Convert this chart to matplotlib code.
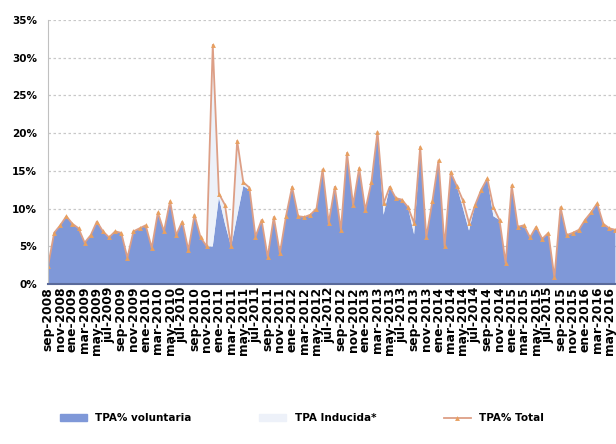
import matplotlib
matplotlib.use("Agg")
import matplotlib.pyplot as plt
from matplotlib.patches import Patch
from matplotlib.lines import Line2D
from matplotlib.ticker import PercentFormatter
import numpy as np

# monthly values, sep-2008 .. jun-2016
tpa_total = [2.4, 6.8, 7.8, 9.0, 8.0, 7.4, 5.5, 6.5, 8.3, 7.0,
             6.2, 7.0, 6.8, 3.5, 7.0, 7.4, 7.8, 4.8, 9.5, 7.0,
             11.0, 6.5, 8.3, 4.5, 9.2, 6.2, 5.0, 31.7, 12.0, 10.5,
             5.0, 19.0, 13.5, 12.8, 6.3, 8.5, 3.6, 8.9, 4.1, 9.0,
             12.9, 9.0, 8.9, 9.2, 10.0, 15.2, 8.1, 12.9, 7.2, 17.4,
             10.5, 15.4, 9.8, 13.5, 20.2, 10.7, 12.9, 11.4, 11.2, 10.2,
             8.1, 18.2, 6.2, 11.0, 16.4, 5.0, 14.8, 13.0, 11.1, 8.1,
             10.5, 12.5, 14.0, 10.2, 8.5, 2.8, 13.1, 7.6, 7.8, 6.2,
             7.6, 6.0, 6.8, 0.9, 10.2, 6.5, 6.8, 7.2, 8.5, 9.5,
             10.7, 8.0, 7.4, 7.2]

tpa_inducida = [0, 0, 0, 0, 0, 0, 0, 0, 0, 0,
                0, 0, 0, 0, 0, 0, 0, 0, 0, 0,
                0, 0, 0, 0, 0, 0, 0, 26.7, 0.5, 2.5,
                0, 10.0, 0.5, 0.3, 0, 0, 0, 0, 0, 0,
                0, 0, 0, 0, 0, 0, 0, 0, 0, 0,
                0, 0, 0, 0, 0, 1.5, 0, 0, 0, 0,
                1.5, 0, 0, 0, 0, 0, 0, 0, 1.0, 1.0,
                0, 0, 0, 1.2, 0, 0, 0, 0, 0, 0,
                0, 0, 0, 0, 0, 0, 0, 0, 0, 0,
                0, 0, 0, 0]

tick_labels = ["sep-2008", "nov-2008", "ene-2009", "mar-2009", "may-2009", "jul-2009",
               "sep-2009", "nov-2009", "ene-2010", "mar-2010", "may-2010", "jul-2010",
               "sep-2010", "nov-2010", "ene-2011", "mar-2011", "may-2011", "jul-2011",
               "sep-2011", "nov-2011", "ene-2012", "mar-2012", "may-2012", "jul-2012",
               "sep-2012", "nov-2012", "ene-2013", "mar-2013", "may-2013", "jul-2013",
               "sep-2013", "nov-2013", "ene-2014", "mar-2014", "may-2014", "jul-2014",
               "sep-2014", "nov-2014", "ene-2015", "mar-2015", "may-2015", "jul-2015",
               "sep-2015", "nov-2015", "ene-2016", "mar-2016", "may-2016"]

BLUE = "#7f98d8"
LIGHT = "#edf1f9"
ORANGE = "#dd9f86"

total = np.array(tpa_total)
inducida = np.array(tpa_inducida)
voluntaria = total - inducida
x = np.arange(len(total))

fig = plt.figure(figsize=(6.16, 4.44), dpi=100)
ax = fig.add_axes([0.078, 0.36, 0.93, 0.595])

ax.stackplot(x, voluntaria, inducida, colors=[BLUE, LIGHT], linewidth=0)
ax.plot(x, total, color=ORANGE, lw=1.3, marker="^", ms=3.5, mew=0,
        mfc="#e8a060")

ax.set_ylim(0, 35)
ax.set_xlim(0, 93.9)
ax.set_yticks(np.arange(0, 36, 5))
ax.yaxis.set_major_formatter(PercentFormatter(decimals=0))
ax.grid(axis="y", color="#c8c8c8", ls=(0, (2, 2)), lw=0.9)
ax.set_axisbelow(True)

ax.set_xticks(x[:93:2])
ax.set_xticklabels(tick_labels, rotation=90, fontsize=8.8, fontweight="bold")
for lbl in ax.get_yticklabels():
    lbl.set_fontsize(7.5)
    lbl.set_fontweight("bold")
ax.tick_params(length=0, pad=2)
ax.tick_params(axis="y", pad=8)

for side in ["top", "right"]:
    ax.spines[side].set_visible(False)
ax.spines["left"].set_color("#c0c0c0")
ax.spines["bottom"].set_color("#5a6a9a")
ax.spines["bottom"].set_linewidth(1.5)

handles = [Patch(color=BLUE), Patch(color=LIGHT),
           Line2D([], [], color=ORANGE, lw=1.3, marker="^", ms=3.5, mew=0, mfc="#e8a060")]
fig.legend(handles, ["TPA% voluntaria", "TPA Inducida*", "TPA% Total"],
           loc="center", bbox_to_anchor=(0.49, 0.058), ncol=3, frameon=False,
           handlelength=2.6, handleheight=0.6, columnspacing=6.5,
           prop={"weight": "bold", "size": 7.5})

fig.savefig("out.png", dpi=100, facecolor="white")
